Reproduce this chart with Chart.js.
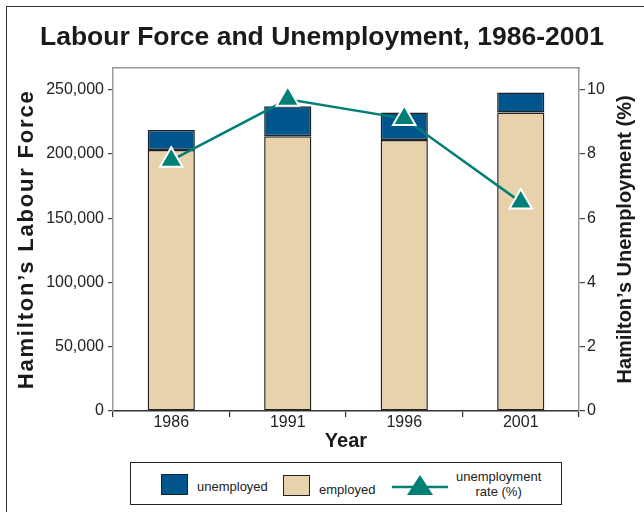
<!DOCTYPE html>
<html>
<head>
<meta charset="utf-8">
<script src="https://cdn.jsdelivr.net/npm/chart.js@4.4.1/dist/chart.umd.min.js"></script>
<style>
  body { margin: 0; background: #fff; }
  #wrap { position: relative; width: 644px; height: 512px; overflow: hidden; font-family: "Liberation Sans", Arial, sans-serif; }
  #frame { position: absolute; left: 6px; top: 6px; width: 700px; height: 600px; border-top: 1.5px solid #333; border-left: 1.5px solid #333; }
  #myChart { position: absolute; left: 0; top: 0; }
  #legende { position: absolute; left: 130px; top: 462px; width: 430px; height: 41px; border: 1.5px solid #222; background: #fff; color: #222; font-size: 13px; }
  .swatch { position: absolute; width: 27px; height: 21px; border: 1.5px solid #222; box-sizing: border-box; }
  .lbl { position: absolute; white-space: nowrap; line-height: 15px; }
</style>
</head>
<body>
<div id="wrap">
  <div id="frame"></div>
  <canvas id="myChart" width="644" height="512"></canvas>
  <div id="legende">
    <div class="swatch" style="left:30px; top:11px; background:#00558c;"></div>
    <div class="lbl" style="left:66px; top:16px;">unemployed</div>
    <div class="swatch" style="left:152px; top:12px; background:#e8d2ab;"></div>
    <div class="lbl" style="left:188px; top:19px;">employed</div>
    <svg style="position:absolute; left:261px; top:10px;" width="58" height="24">
      <line x1="0" y1="14" x2="56" y2="14" stroke="#008074" stroke-width="2.5"/>
      <polygon points="28,2 41,22 15,22" fill="#008074"/>
    </svg>
    <div class="lbl" style="left:325px; top:6px; text-align:center;">unemployment<br>rate (%)</div>
  </div>
</div>

<script>
var annees = ['1986', '1991', '1996', '2001'];
var employes = [203000, 213700, 210800, 232300];
var chomeurs = [15600, 23300, 21500, 15500];
var tauxChomage = [7.8, 9.7, 9.1, 6.5];
var ticksGauche = [0, 50000, 100000, 150000, 200000, 250000];
var ticksDroite = [0, 2, 4, 6, 8, 10];

var bleu = '#00558c';
var beige = '#e8d2ab';
var sarcelle = '#008074';

Chart.defaults.font.family = '"Liberation Sans", Arial, sans-serif';
Chart.defaults.color = '#222';

// titre vertical lu de bas en haut, avec un peu d'espacement entre les lettres
class EchelleTitre extends Chart.LinearScale {
    drawTitle() {
        var t = this.options.title;
        if (!t.display) return;
        var font = Chart.helpers.toFont(t.font);
        var pad = Chart.helpers.toPadding(t.padding);
        var decal = pad.top + font.lineHeight / 2;
        var x = this.options.position === 'left' ? this.left + decal : this.right - decal;
        var y = (this.top + this.bottom) / 2;
        var ctx = this.ctx;
        ctx.save();
        ctx.letterSpacing = (this.id === 'y' ? 1.8 : 0) + 'px';
        Chart.helpers.renderText(ctx, t.text, 0, 0, font, {
            color: t.color, translation: [x, y], rotation: -Math.PI / 2, textAlign: 'center', textBaseline: 'middle'
        });
        ctx.restore();
    }
}
EchelleTitre.id = 'echelleTitre';
EchelleTitre.defaults = Chart.LinearScale.defaults;
Chart.register(EchelleTitre);

function fixerTicks(liste) {
    return function(s) { s.ticks = liste.map(function(v) { return { value: v }; }); };
}

var ctx = document.getElementById('myChart').getContext('2d');
var myChart = new Chart(ctx, {
    type: 'bar',
    data: {
        labels: annees,
        datasets: [
        {
            label: 'employed',
            data: employes,
            backgroundColor: beige,
            borderColor: '#222',
            borderWidth: 1.5,
            borderSkipped: false,
            yAxisID: 'y',
            order: 2
        },
        {
            label: 'unemployed',
            data: chomeurs,
            backgroundColor: bleu,
            borderColor: '#222',
            borderWidth: 1.5,
            borderSkipped: false,
            yAxisID: 'y',
            order: 2
        },
        {
            type: 'line',
            label: 'unemployment rate (%)',
            data: tauxChomage,
            borderColor: sarcelle,
            borderWidth: 2.5,
            backgroundColor: sarcelle,
            pointStyle: 'triangle',
            pointRadius: 13,
            pointBorderColor: '#fff',
            pointBorderWidth: 2,
            tension: 0,
            yAxisID: 'y1',
            order: 0
        }
        ]
    },
    options: {
        responsive: false,
        animation: false,
        barPercentage: 0.405,
        categoryPercentage: 1,
        layout: { padding: { left: 0, right: 0, top: 0, bottom: 59 } },
        plugins: {
            legend: { display: false },
            tooltip: { enabled: false },
            title: {
                display: true,
                text: 'Labour Force and Unemployment, 1986-2001',
                color: '#1a1a1a',
                font: { size: 26.5, weight: 'bold' },
                padding: { top: 22, bottom: 14 }
            }
        },
        scales: {
            x: {
                stacked: true,
                position: 'bottom',
                grid: { drawOnChartArea: false, tickLength: 6, color: '#333', lineWidth: 1.2 },
                border: { color: '#333', width: 1.5 },
                ticks: { font: { size: 16 }, color: '#222', padding: -4 },
                title: { display: true, text: 'Year', color: '#1a1a1a', font: { size: 20, weight: 'bold' }, padding: { top: 0, bottom: 0 } },
                afterFit: function(s) { s.height = 42; }
            },
            xHaut: {
                type: 'category',
                position: 'top',
                grid: { drawOnChartArea: false, drawTicks: false },
                border: { color: '#999', width: 1.5 },
                ticks: { display: false },
                afterFit: function(s) { s.height = 0; }
            },
            y: {
                type: 'echelleTitre',
                stacked: true,
                position: 'left',
                min: 0,
                max: 267000,
                grid: { drawOnChartArea: false, tickLength: 5, color: '#444', lineWidth: 1.2 },
                border: { color: '#999', width: 1.5 },
                afterBuildTicks: fixerTicks(ticksGauche),
                ticks: {
                    padding: 4,
                    font: { size: 16 },
                    color: '#222',
                    callback: function(v) { return v.toLocaleString('en-US'); }
                },
                title: { display: true, text: 'Hamilton\u2019s Labour Force', color: '#1a1a1a', font: { size: 22, weight: 'bold' }, padding: { top: 14, bottom: 0 } },
                afterFit: function(s) { s.width = 113; }
            },
            y1: {
                type: 'echelleTitre',
                position: 'right',
                min: 0,
                max: 10.68,
                grid: { drawOnChartArea: false, tickLength: 6, color: '#444', lineWidth: 1.2 },
                border: { color: '#999', width: 1.5 },
                afterBuildTicks: fixerTicks(ticksDroite),
                ticks: { padding: 2, font: { size: 16 }, color: '#222' },
                title: { display: true, text: 'Hamilton\u2019s Unemployment (%)', color: '#1a1a1a', font: { size: 20, weight: 'bold' }, padding: { top: 7, bottom: 0 } },
                afterFit: function(s) { s.width = 65; }
            }
        }
    }
});
</script>
</body>
</html>
